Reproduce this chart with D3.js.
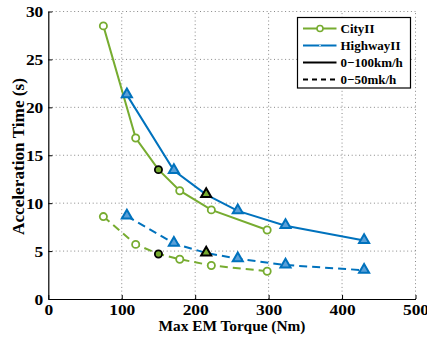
<!DOCTYPE html>
<html><head><meta charset="utf-8">
<script src="https://cdn.jsdelivr.net/npm/d3@7"></script>
<style>body{margin:0;background:#fff}svg{display:block}text{font-family:"Liberation Serif","Times New Roman",serif;font-weight:bold}</style>
</head><body>
<script>
const cityTorque = [75, 119, 150, 179, 222, 298];
const city100 = [28.5, 16.8, 13.5, 11.3, 9.3, 7.2];
const city50 = [8.6, 5.7, 4.7, 4.15, 3.5, 2.9];
const hwyTorque = [107, 171, 215, 258, 323, 430];
const hwy100 = [21.3, 13.4, 10.9, 9.2, 7.65, 6.1];
const hwy50 = [8.65, 5.8, 4.8, 4.2, 3.55, 3.0];
const highlightIndex = 2;
const xTicks = [0, 100, 200, 300, 400, 500];
const yTicks = [0, 5, 10, 15, 20, 25, 30];
const legendLabels = ["CityII", "HighwayII", "0\u2212100km/h", "0\u221250mk/h"];

const W = 427, H = 338;
const green = "#77AC30", blue = "#0072BD";
const svg = d3.select("body").append("svg").attr("width", W).attr("height", H);

const x = d3.scaleLinear().domain([0, 500]).range([48.3, 415.5]);
const y = d3.scaleLinear().domain([0, 30]).range([299, 11.5]);

// grid
const g = svg.append("g");
g.selectAll(".gx").data(xTicks.filter(d => d > 0)).join("line")
  .attr("x1", d => x(d)).attr("x2", d => x(d)).attr("y1", y(0)).attr("y2", y(30))
  .attr("stroke", "#888").attr("stroke-width", 1).attr("stroke-dasharray", "1,2.7");
g.selectAll(".gy").data(yTicks.filter(d => d > 0)).join("line")
  .attr("y1", d => y(d)).attr("y2", d => y(d)).attr("x1", x(0)).attr("x2", x(500))
  .attr("stroke", "#888").attr("stroke-width", 1).attr("stroke-dasharray", "1,2.7");

// axes
const xAxis = svg.append("g").attr("transform", `translate(0,${y(0)})`)
  .call(d3.axisBottom(x).tickValues(xTicks).tickSizeInner(-4).tickSizeOuter(0));
const yAxis = svg.append("g").attr("transform", `translate(${x(0)},0)`)
  .call(d3.axisLeft(y).tickValues(yTicks).tickSizeInner(-4).tickSizeOuter(0));
[xAxis, yAxis].forEach(a => {
  a.attr("font-family", null).attr("font-size", null);
  a.select(".domain").attr("stroke", "#000").attr("stroke-width", 1.2);
  a.selectAll(".tick line").attr("stroke", "#000");
  a.selectAll("text").attr("font-size", 14).attr("fill", "#000")
    .attr("lengthAdjust", "spacingAndGlyphs")
    .attr("textLength", function() { return this.textContent.length * 8.7; });
});
xAxis.selectAll("text").attr("y", 16.3).attr("dy", 0);
yAxis.selectAll("text").attr("x", -5).attr("dy", "0.36em");

// series
const line = d3.line().x(d => x(d[0])).y(d => y(d[1]));
function series(tq, vals, color, dashed, marker) {
  const pts = tq.map((t, i) => [t, vals[i]]);
  svg.append("path").datum(pts).attr("d", line).attr("fill", "none")
    .attr("stroke", color).attr("stroke-width", 2)
    .attr("stroke-dasharray", dashed ? "8,5" : null);
  pts.forEach((p, i) => {
    const hl = i === highlightIndex;
    const stroke = hl ? "#000" : color;
    if (marker === "circle") {
      svg.append("circle").attr("cx", x(p[0])).attr("cy", y(p[1])).attr("r", 3.6)
        .attr("fill", hl ? green : "#fff").attr("stroke", stroke).attr("stroke-width", 1.8);
    } else {
      const sym = d3.symbol().type(d3.symbolTriangle).size(44);
      svg.append("path").attr("d", sym)
        .attr("transform", `translate(${x(p[0])},${y(p[1]) - 0.5})`)
        .attr("fill", hl ? green : "#5aa0d8").attr("stroke", stroke).attr("stroke-width", 2);
    }
  });
}
series(cityTorque, city100, green, false, "circle");
series(hwyTorque, hwy100, blue, false, "tri");
series(cityTorque, city50, green, true, "circle");
series(hwyTorque, hwy50, blue, true, "tri");

// axis titles
svg.append("text").attr("x", 232).attr("y", 331).attr("text-anchor", "middle")
  .attr("font-size", 14).attr("lengthAdjust", "spacingAndGlyphs").attr("textLength", 147)
  .text("Max EM Torque (Nm)");
svg.append("text").attr("transform", `translate(23.5,156.5) rotate(-90)`)
  .attr("text-anchor", "middle").attr("font-size", 16)
  .attr("lengthAdjust", "spacingAndGlyphs").attr("textLength", 157)
  .text("Acceleration Time (s)");

// legend
const lg = svg.append("g");
lg.append("rect").attr("x", 297.5).attr("y", 17.5).attr("width", 113).attr("height", 70.5)
  .attr("fill", "#fff").attr("stroke", "#000").attr("stroke-width", 1.2);
const rows = [
  {c: green, dash: null, m: "circle"},
  {c: blue, dash: null, m: "dot"},
  {c: "#000", dash: null, m: null},
  {c: "#000", dash: "5,4", m: null}
];
rows.forEach((r, i) => {
  const cy = 28.5 + i * 17;
  lg.append("line").attr("x1", 303).attr("x2", 336.5).attr("y1", cy).attr("y2", cy)
    .attr("stroke", r.c).attr("stroke-width", 2.2).attr("stroke-dasharray", r.dash);
  if (r.m === "circle") lg.append("circle").attr("cx", 320).attr("cy", cy).attr("r", 3)
    .attr("fill", "#fff").attr("stroke", green).attr("stroke-width", 1.6);
  if (r.m === "dot") lg.append("circle").attr("cx", 320).attr("cy", cy).attr("r", 0.8)
    .attr("fill", "#fff");
  lg.append("text").attr("x", 340.5).attr("y", cy + 4.5).attr("font-size", 13)
    .text(legendLabels[i]);
});
</script>
</body></html>
